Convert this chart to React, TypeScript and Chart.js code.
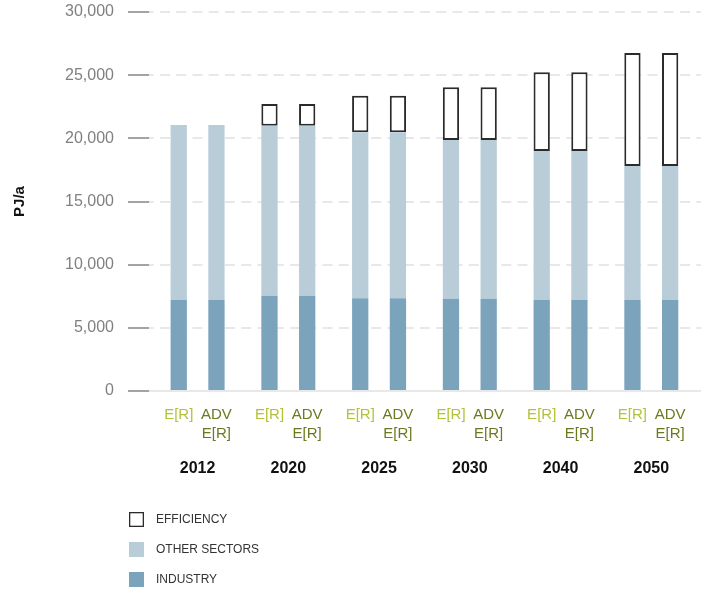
import React, { useEffect, useRef } from 'react';
import { Chart, registerables } from 'chart.js';

Chart.register(...registerables);

// ---- data ----
const YEARS = ['2012', '2020', '2025', '2030', '2040', '2050'];
const SCENARIO_LABELS = [['E[R]'], ['ADV', 'E[R]']];
const SERIES_NAMES = ['INDUSTRY', 'OTHER SECTORS', 'EFFICIENCY'];

const INDUSTRY_ER = [7200, 7540, 7340, 7300, 7200, 7200];
const OTHER_ER = [13860, 13460, 13140, 12570, 11800, 10610];
const EFFICIENCY_ER = [null, 1720, 2890, 4170, 6230, 8950];

const INDUSTRY_ADV = [7200, 7540, 7340, 7300, 7200, 7200];
const OTHER_ADV = [13860, 13460, 13140, 12570, 11800, 10610];
const EFFICIENCY_ADV = [null, 1720, 2890, 4170, 6230, 8950];

const Y_MIN = 0;
const Y_MAX = 30000;
const Y_STEP = 5000;

const FONT = '"Liberation Sans", Arial, Helvetica, sans-serif';
const C_INDUSTRY = '#7ba3bc';
const C_OTHER = '#b8cdd8';
const C_EFF_FILL = '#ffffff';
const C_EFF_BORDER = '#2b2b2b';
const C_ER = '#b3c23a';
const C_ADV = '#6a7a1f';

const toPoints = (arr: (number | null)[]) => arr.map((v, i) => ({ x: i, y: v }));

const noPadding = (s: any) => {
  s.paddingLeft = 0;
  s.paddingRight = 0;
  s.paddingTop = 0;
  s.paddingBottom = 0;
};

const subLabelPlugin = {
  id: 'subLabels',
  afterDraw(chart: any) {
    const ctx = chart.ctx;
    const metaE = chart.getDatasetMeta(0);
    const metaA = chart.getDatasetMeta(3);
    const base = chart.chartArea.bottom;
    ctx.save();
    ctx.font = '15px ' + FONT;
    ctx.textAlign = 'center';
    ctx.textBaseline = 'middle';
    YEARS.forEach((_, i) => {
      const xe = metaE.data[i].x;
      const xa = metaA.data[i].x;
      ctx.fillStyle = C_ER;
      SCENARIO_LABELS[0].forEach((t, k) => ctx.fillText(t, xe, base + 24 + k * 18.5));
      ctx.fillStyle = C_ADV;
      SCENARIO_LABELS[1].forEach((t, k) => ctx.fillText(t, xa, base + 24 + k * 18.5));
    });
    ctx.restore();
  },
};

const legendPlugin = {
  id: 'verticalLegend',
  afterDraw(chart: any) {
    const ctx = chart.ctx;
    const order = [2, 1, 0];
    ctx.save();
    order.forEach((di, k) => {
      const ds = chart.data.datasets[di];
      const cy = 519.5 + k * 30;
      const x = 129;
      ctx.fillStyle = ds.backgroundColor;
      ctx.fillRect(x, cy - 7.5, 15, 15);
      if (ds.borderWidth) {
        ctx.strokeStyle = ds.borderColor;
        ctx.lineWidth = 1.3;
        ctx.strokeRect(x + 0.65, cy - 6.85, 13.7, 13.7);
      }
      ctx.fillStyle = '#333333';
      ctx.font = '12px ' + FONT;
      ctx.textAlign = 'left';
      ctx.textBaseline = 'middle';
      ctx.fillText(ds.label, 156, cy);
    });
    ctx.restore();
  },
};

export default function App() {
  const ref = useRef<HTMLCanvasElement>(null);

  useEffect(() => {
    if (!ref.current) return;
    const common = {
      borderSkipped: false,
      categoryPercentage: 0.831,
      barPercentage: 0.432,
    };
    const chart = new Chart(ref.current, {
      type: 'bar',
      data: {
        datasets: [
          { ...common, label: SERIES_NAMES[0], stack: 'ER', data: toPoints(INDUSTRY_ER), backgroundColor: C_INDUSTRY, borderWidth: 0 },
          { ...common, label: SERIES_NAMES[1], stack: 'ER', data: toPoints(OTHER_ER), backgroundColor: C_OTHER, borderWidth: 0 },
          { ...common, label: SERIES_NAMES[2], stack: 'ER', data: toPoints(EFFICIENCY_ER), backgroundColor: C_EFF_FILL, borderColor: C_EFF_BORDER, borderWidth: 2 },
          { ...common, label: SERIES_NAMES[0], stack: 'ADV', data: toPoints(INDUSTRY_ADV), backgroundColor: C_INDUSTRY, borderWidth: 0 },
          { ...common, label: SERIES_NAMES[1], stack: 'ADV', data: toPoints(OTHER_ADV), backgroundColor: C_OTHER, borderWidth: 0 },
          { ...common, label: SERIES_NAMES[2], stack: 'ADV', data: toPoints(EFFICIENCY_ADV), backgroundColor: C_EFF_FILL, borderColor: C_EFF_BORDER, borderWidth: 2 },
        ] as any,
      },
      options: {
        responsive: false,
        animation: false,
        devicePixelRatio: 1,
        layout: { padding: { top: 12, right: 8, bottom: 109, left: 0 } },
        plugins: {
          legend: { display: false },
          tooltip: { enabled: false },
        },
        scales: {
          x: {
            type: 'linear',
            stacked: true,
            offset: false,
            min: -0.5356,
            max: 5.5477,
            grid: { display: false },
            border: { display: false },
            ticks: {
              stepSize: 1,
              includeBounds: false,
              autoSkip: false,
              maxRotation: 0,
              padding: 60,
              color: '#111111',
              font: { family: FONT, size: 16, weight: 'bold' },
              callback: (v: any) => (Number.isInteger(v) && YEARS[v] !== undefined ? YEARS[v] : ''),
            },
            afterFit: (s: any) => { s.height = 90; noPadding(s); },
          },
          y: {
            stacked: true,
            min: Y_MIN,
            max: Y_MAX,
            grid: {
              color: '#e8e8e8',
              lineWidth: 2,
              tickColor: '#a3a3a3',
              tickWidth: 2,
              tickLength: 21,
            },
            border: {
              display: false,
              dash: (c: any) => (c.tick && c.tick.value === 0 ? [] : [10, 6.25]),
              dashOffset: 5.25,
            },
            ticks: {
              stepSize: Y_STEP,
              padding: 14,
              color: '#808080',
              font: { family: FONT, size: 16 },
              callback: (v: any) => Number(v).toLocaleString('en-US'),
            },
            title: {
              display: true,
              text: 'PJ/a',
              color: '#111111',
              font: { family: FONT, size: 15, weight: 'bold' },
              padding: { top: 11, bottom: 0 },
            },
            afterFit: (s: any) => { s.width = 149; noPadding(s); },
          },
        },
      } as any,
      plugins: [subLabelPlugin, legendPlugin],
    });
    return () => chart.destroy();
  }, []);

  return (
    <div style={{ position: 'absolute', left: 0, top: 0, width: 709, height: 590, background: '#fff' }}>
      <canvas ref={ref} width={709} height={590} style={{ display: 'block' }} />
    </div>
  );
}
